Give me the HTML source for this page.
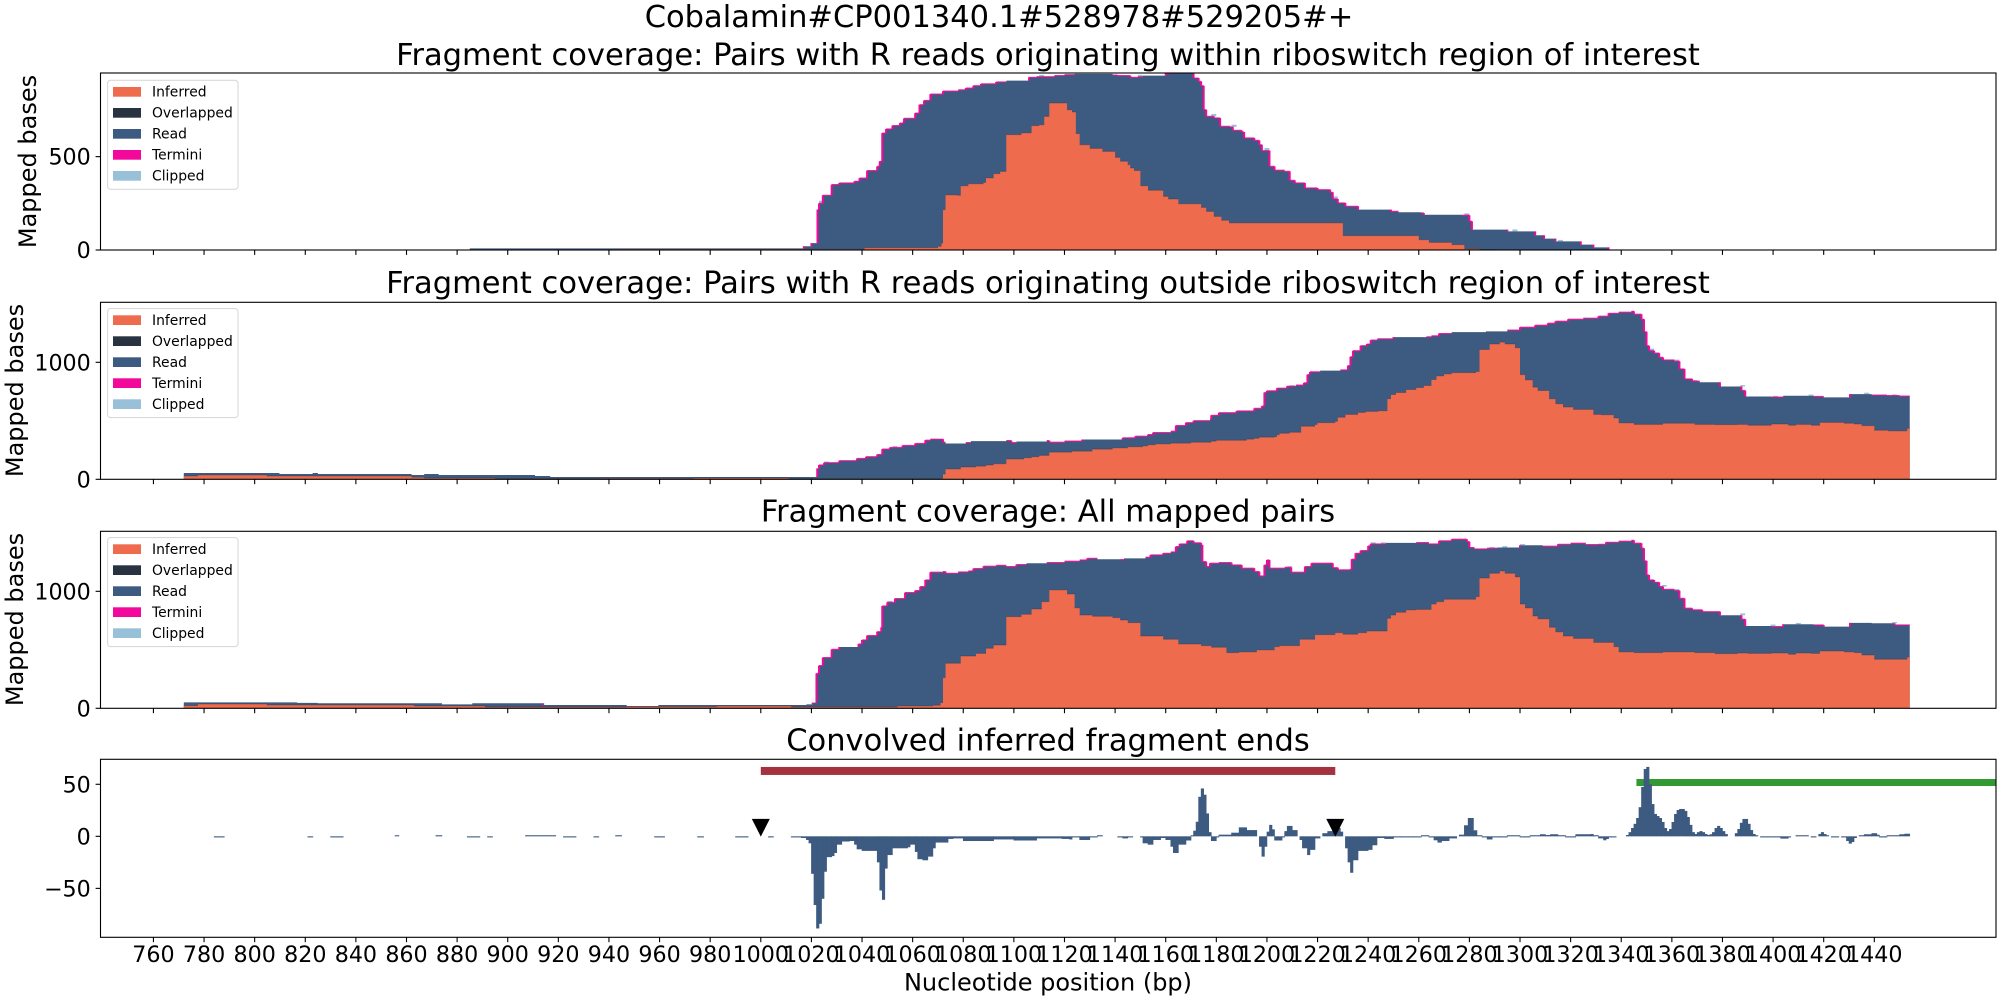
<!DOCTYPE html>
<html><head><meta charset="utf-8"><title>Cobalamin fragment coverage</title>
<style>
html,body{margin:0;padding:0;background:#fff}
svg{display:block}
text{font-family:"DejaVu Sans","Liberation Sans",sans-serif;fill:#000}
.tl{font-size:30.5px;text-anchor:middle}
.tk{font-size:22.2px}
.yl{font-size:24px;text-anchor:middle}
</style></head>
<body>
<svg id="fig" xmlns="http://www.w3.org/2000/svg" width="2000" height="1000" viewBox="0 0 2000 1000">
<rect width="2000" height="1000" fill="#fff"/>
<text class="tl" x="999" y="27">Cobalamin#CP001340.1#528978#529205#+</text>
<text class="tl" x="1048" y="65">Fragment coverage: Pairs with R reads originating within riboswitch region of interest</text>
<text class="tl" x="1048" y="293">Fragment coverage: Pairs with R reads originating outside riboswitch region of interest</text>
<text class="tl" x="1048" y="521.5">Fragment coverage: All mapped pairs</text>
<text class="tl" x="1048" y="750.5">Convolved inferred fragment ends</text>
<text class="yl" transform="translate(36,161.5) rotate(-90)">Mapped bases</text>
<text class="yl" transform="translate(23,390.5) rotate(-90)">Mapped bases</text>
<text class="yl" transform="translate(23,619.5) rotate(-90)">Mapped bases</text>
<text class="yl" x="1048" y="990.5">Nucleotide position (bp)</text>
<g id="plots"></g>
</svg>
<script>
var xTickLabels=[760,780,800,820,840,860,880,900,920,940,960,980,1000,1020,1040,1060,1080,1100,1120,1140,1160,1180,1200,1220,1240,1260,1280,1300,1320,1340,1360,1380,1400,1420,1440];
var p1YTicks=[0,500];
var p2YTicks=[0,1000];
var p3YTicks=[0,1000];
var p4YTicks=[-50,0,50];
var legendLabels=["Inferred","Overlapped","Read","Termini","Clipped"];
var legendColors=["#ee6c4d","#293241","#3d5a80","#f2089a","#98c1d9"];
var dataEnd=1454;

var p1TotalPos=[885,1017,1020,1022.4,1023,1024.5,1028,1031,1037,1039,1042,1046,1047,1048,1049.5,1052,1055,1056.6,1061,1062.7,1064.5,1067,1072,1078,1081,1084,1087,1093,1097,1106,1109,1116,1120,1124,1139,1141,1146,1149,1151,1160,1163,1171,1173,1174,1175,1176,1179,1181.5,1185.5,1186.5,1190,1191,1195,1197,1198,1201,1203,1207,1209,1211,1215,1220,1225,1226,1228,1231,1236,1249,1252,1261,1262,1277,1280,1281,1295,1306,1309.5,1314,1324,1329,1335,1337];
var p1TotalVal=[9,20,37,216,250,293,350,359,368,385,425,448,475,626,648,666,680,705,733,778,801,835,851,858,867,880,890,900,907,925,928,934,939,943,937,934,925,928,934,945,945,921,903,880,751,716,707,662,659,641,632,600,587,564,532,448,427,421,373,359,332,323,309,273,252,234,216,207,202,198,189,186,154,109,100,79,61,46,29,14,2,0];
var p1InferredPos=[942,1041,1070,1071.4,1072,1073,1077.4,1079,1082,1088,1089,1092,1094.6,1097,1103,1107,1110,1112,1114,1121,1123,1124.5,1126,1130,1135,1140,1142,1145,1146,1147.5,1150,1153,1159,1161,1165,1174,1176,1179,1182,1185,1230,1260,1264,1273,1278,1284,1290];
var p1InferredVal=[4,12,20,37,216,295,293,344,355,362,386,409,421,618,627,666,671,716,787,751,739,623,564,544,528,496,475,457,439,426,344,320,287,273,248,228,207,180,159,145,77,55,41,29,7,2,0];
var p1ClippedPos=[1023,1056,1110,1149,1178,1186,1199,1226,1278,1297,1315];
var p1ClippedVal=[14,12,10,10,12,12,14,14,10,10,8];

var p2TotalPos=[772,777.6,809.8,822.9,825,862,867,872.7,910.8,916.8,1012,1022.3,1023,1025,1031,1038,1041.6,1046,1048,1051,1056,1061,1065,1067,1072,1073,1081,1083,1097,1099,1101,1113,1114,1120,1127,1143,1148,1153,1155,1162,1164,1168,1171,1177.5,1178,1181,1188,1195,1198,1199,1200,1204,1208,1211.5,1214.6,1216,1217,1221,1229,1232,1233,1234,1237,1239.5,1241,1243.6,1250,1263,1265,1268,1273,1286.5,1295,1300,1306,1311,1314,1319,1325,1331,1335,1339,1344,1345,1348,1349,1350,1351,1353,1355,1356.5,1361,1363,1365,1368,1371,1379,1387.5,1389,1399.4,1404,1416,1420,1430.4,1439,1445,1450];
var p2TotalVal=[54,54,45,54,45,37,45,37,28,20,20,93,122,142,159,178,193,212,258,272,289,306,334,343,317,306,314,326,331,314,323,331,317,326,340,354,368,382,399,411,459,484,501,513,547,569,584,606,626,742,756,779,796,805,824,895,918,929,935,972,1048,1099,1142,1156,1190,1201,1215,1218,1226,1246,1258,1264,1275,1300,1317,1334,1351,1368,1377,1394,1419,1428,1436,1411,1368,1261,1142,1099,1079,1042,1020,1009,943,858,839,830,793,759,708,703,714,708,700,728,720,716,711];
var p2InferredPos=[772,777.6,804.8,862,867,895,937,973.5,1011,1071,1072,1073,1079,1085,1089,1092,1097,1104,1107,1110,1114,1123,1131,1139,1145,1151,1153,1156,1162,1170,1178,1180,1192,1195,1197,1203,1204,1205,1209,1213.5,1219,1220,1227,1228,1231,1236,1239,1244,1247.6,1249,1251,1255,1259,1262,1265,1267,1270,1273,1282.6,1284,1288,1292,1294,1298,1300,1302,1305,1307,1311.5,1314,1317,1321,1329,1332,1337,1339,1345,1356.5,1369,1377,1386,1390,1399.4,1406,1409,1415,1418.5,1428,1432,1435,1440,1445.5,1453];
var p2InferredVal=[28,37,28,17,11,6,8,11,3,8,45,88,105,113,122,133,173,184,193,204,232,241,258,269,278,286,295,303,309,317,326,334,343,351,360,365,382,394,402,453,470,484,496,530,555,572,581,586,688,725,742,768,785,802,853,884,901,912,921,1110,1156,1173,1156,1125,895,850,788,759,688,646,618,598,555,552,524,482,470,479,470,467,470,462,473,462,470,462,487,479,473,459,419,414,436];
var p2ClippedPos=[1025,1052,1209,1351,1361,1368,1387,1400,1414,1436,1447];
var p2ClippedVal=[10,12,8,18,14,10,12,10,10,12,10];

var p3TotalPos=[772,816.8,824.9,862,874,886,907,914,947,959.5,1018,1020.5,1022,1023,1024.5,1028,1031,1038.6,1040,1042,1046,1047.6,1048,1050,1053,1057,1061,1063,1065,1067,1072,1073,1078,1082,1084,1088,1093,1097,1101,1105,1113,1120,1126,1129,1133,1142,1143.5,1152,1154,1159,1162,1164,1165.5,1168.5,1171,1174,1174.5,1176,1177.5,1181,1186,1190,1195,1197,1199,1200,1201,1207,1209.6,1214,1215,1217.6,1223.6,1226,1228,1232.7,1233.5,1235,1237,1240,1241,1247,1259,1264,1268,1273,1279,1280,1282,1287,1291,1300,1309,1315,1320,1326,1331,1334,1339,1344,1345,1348,1349,1350,1351,1353,1355,1356.5,1361,1363,1365,1368,1372,1379,1387.5,1389,1399.4,1404,1416,1420,1430.4,1439,1448];
var p3TotalVal=[51,46,43,43,34,43,43,28,20,28,34,48,299,365,433,504,524,550,584,621,655,692,875,906,938,989,1006,1040,1097,1163,1168,1154,1165,1174,1194,1214,1222,1211,1228,1240,1245,1257,1268,1282,1274,1271,1282,1291,1311,1325,1336,1382,1405,1431,1414,1396,1254,1211,1240,1245,1225,1197,1168,1131,1225,1268,1197,1205,1163,1163,1211,1240,1240,1202,1183,1188,1274,1325,1348,1388,1405,1414,1416,1405,1431,1445,1425,1374,1362,1368,1374,1394,1385,1402,1411,1399,1402,1419,1428,1436,1411,1368,1260,1140,1097,1077,1040,1017,1006,940,855,841,826,795,761,704,698,718,712,698,730,727,712];
var p3InferredPos=[772,777.6,804.8,847,863,891,947,982.6,1012,1054,1068,1071,1072,1073,1079,1085,1089,1092,1097,1103,1107,1111,1114,1121,1124,1126,1131,1139,1142,1145,1150,1159,1165,1174,1178,1184,1189,1196,1203,1205,1213,1219,1227,1230,1236,1239.5,1247.6,1249,1251,1255,1259,1265,1267,1270,1282.6,1284,1288,1292,1294,1298,1300,1302,1305,1307,1311.5,1314,1317,1321,1329,1337,1339,1345,1356.5,1369,1377,1386,1390,1399.4,1406,1409,1415,1418.5,1428,1432,1435,1440,1453];
var p3InferredVal=[23,37,28,28,20,11,14,20,11,20,26,48,262,385,447,470,513,541,784,804,849,912,1012,977,858,798,787,775,755,732,618,590,550,536,522,476,482,499,527,536,590,630,647,633,647,661,770,798,821,841,846,892,912,932,955,1114,1154,1174,1154,1123,892,858,789,764,693,653,618,598,564,527,482,476,482,476,467,473,470,473,462,473,470,490,482,476,456,419,439];
var p3ClippedPos=[1050,1208,1241,1245,1288,1293,1300,1356,1361,1387,1399,1409,1430,1447];
var p3ClippedVal=[12,10,14,14,10,12,10,14,14,16,12,12,14,10];

var p4BarPos=[
784,788,821,823,830,835,855.5,857,871.6,874,
884,889,892,894,907,919,922,927,934,936,
942.6,945,958,962,975,977.4,990,995,1003,1005,
1012,1016,1018,1019,1020,1021,1022,1023,1024,1025,
1026,1028,1029,1030,1032,1035,1037,1038,1040,1046,
1047,1048,1049,1050,1052,1058,1059,1061,1062,1064,
1066,1068,1069,1074,1076,1080,1092,1100,1109,1119,
1122,1123,1126,1130,1133,1135,1141,1143,1145,1147,
1150,1151,1153,1155,1158,1160,1162,1163,1165,1168,
1170,1171,1172,1173,1174,1175,1176,1177,1178,1180,
1181,1186,1189,1192,1196,1197,1198,1199,1200,1201,
1202,1203,1206,1207,1208,1210,1212,1213,1214,1216,
1217,1219,1221,1222,1224,1226,1229,1230,1231,1232,
1233,1234,1236,1240,1241.6,1243.5,1246.5,1250,1253,1258,
1261,1264,1266,1267.5,1269,1272,1275,1276,1278,1279.5,
1281.6,1283,1285,1287,1289,1292,1295,1300,1304,1308,
1310,1312,1315,1318,1322,1328,1329,1331,1333,1334,
1335,1336,1338,1342,1343,1344,1345,1346,1347,1348,
1349,1350,1351,1352,1353,1354,1355,1356,1357,1358,
1359,1360,1361,1362,1363,1365,1366,1367,1368,1369,
1370,1371,1372,1373,1374,1375,1376,1377,1378,1379,
1380,1381,1382,1385,1386,1387,1388,1390,1391,1392,
1393,1394,1395,1398,1403,1406,1407,1409,1414,1415,
1417,1418,1419,1420,1421,1422,1423,1426,1427,1429,
1430,1431,1432,1433,1434,1436,1439,1441,1442,1443,
1444,1445,1450,1452];
var p4BarVal=[
-.8,0,-.8,0,-.8,0,.8,0,.8,0,
-.8,0,-.8,0,.8,0,-.8,0,-.8,0,
.8,0,-.8,0,-.8,0,-.8,0,-.8,0,
-.7,-1.6,-3.5,-6.7,-36,-66,-88.5,-84,-60,-34,
-20,-19,-16,-8,-5,-4.5,-8,-12.5,-14,-25,
-52,-61,-31,-18,-11.5,-10.5,-8,-15,-22,-23,
-19.5,-11.5,-6,-2.5,-2,-4.5,-3,-4,-2,-2.5,
-3,-1,-3.5,-1,.5,0,-1,-2,-1,0,
-.6,-6.7,-8,-3.5,-1.6,-3.5,-10,-16,-8,-4,
.5,5.4,14,38,46,40,22,4,-4.5,-1,
1.6,3.5,8.6,6,0,-10,-19.5,-10,4.5,11,
6.7,-4,-1,5,10,6,0,-3.5,-11.5,-18,
-13,-2,0,3,5,8,4.5,0,-11.5,-25,
-35,-23,-14,-13,-8.6,-1.6,-2.5,-1,-.6,-.4,
.6,-1,-3.8,-6,-4.5,-2,0,1.6,10.6,17.6,
5.8,.6,-.6,-3,-1,-.4,.6,-.4,.6,2,
1.3,2,.6,-1,2,2.2,1,-2,-3.8,-2.6,
-1,-.5,0,1.3,4,8,12,17.6,28,47.4,
64.7,66.7,50,31,21.5,19.5,17.6,13.8,8,5,
7,13.8,21.5,25.3,26.3,24.4,18.6,11,4,2.2,
4,5,4,2.2,1.3,2,4,8,10,8,
5,2.2,0,3,7,13,16.7,12,6,2.2,
1,0,-.5,-1,-2.2,-.6,0,.6,0,-.5,
0,2.2,4,2.2,.8,0,-.5,0,-.7,-4.5,
-7,-5.5,-1.6,0,.8,2,3,1.5,-.5,-1,
-.5,.8,2,2.5];
var regionStarts=[1000,1346];
var regionEnds=[1227,1495];
var regionValues=[62.8,51.7];
var regionColors=["#a5333f","#339933"];
var regionHeights=[8,7];
var boundaryMarkers=[1000,1227];

var svg=document.getElementById('plots');
var NS='http://www.w3.org/2000/svg';
var LEFT=100.5,RIGHT=1996;
function x(v){return 760.8+(v-1000)*2.5307;}
function axisY(p,v){return p.bottom-(v-p.yMin)/(p.yMax-p.yMin)*(p.bottom-p.top);}
function mk(tag,attrs,parent){var e=document.createElementNS(NS,tag);for(var k in attrs)e.setAttribute(k,attrs[k]);parent.appendChild(e);return e;}
function areaPath(pos,val,p){
  var base=axisY(p,0),d='M'+x(pos[0]).toFixed(2)+' '+base.toFixed(2);
  for(var i=0;i<pos.length;i++){d+='H'+x(pos[i]).toFixed(2)+'V'+axisY(p,val[i]).toFixed(2);}
  return d+'H'+x(dataEnd).toFixed(2)+'V'+base.toFixed(2)+'Z';
}
function horizontals(pos,val,p,maxLen,minVal){
  var d='';
  for(var i=0;i<pos.length;i++){
    var a=x(pos[i]),b=x(i+1<pos.length?pos[i+1]:dataEnd);
    if(maxLen&&b-a>maxLen)continue;
    if(minVal&&val[i]<minVal)continue;
    var y=axisY(p,val[i]);
    d+='M'+a.toFixed(2)+' '+y.toFixed(2)+'H'+b.toFixed(2);
  }
  return d;
}
function verticals(pos,val,p){
  var d='';
  for(var i=1;i<pos.length;i++){
    if(Math.abs(axisY(p,val[i])-axisY(p,val[i-1]))<1.5)continue;
    d+='M'+x(pos[i]).toFixed(2)+' '+axisY(p,val[i-1]).toFixed(2)+'V'+axisY(p,val[i]).toFixed(2);
  }
  return d;
}
function drawAxes(g,p,ticks,labels,idx){
  var ticksG=mk('g',{},g);
  
  
  xTickLabels.forEach(function(t){
    mk('line',{x1:x(t),x2:x(t),y1:p.bottom,y2:p.bottom+4.9,stroke:'#000','stroke-width':1.1},ticksG);
    if(labels){
      var tx=mk('text',{x:x(t),y:962,'class':'tk','text-anchor':'middle'},ticksG);
      tx.textContent=t;
      
      
    }
  });
  ticks.forEach(function(t){
    var y=axisY(p,t);
    mk('line',{x1:LEFT-4.9,x2:LEFT,y1:y,y2:y,stroke:'#000','stroke-width':1.1},ticksG);
    var tx=mk('text',{x:LEFT-9.7,y:y+8,'class':'tk','text-anchor':'end'},ticksG);
    tx.textContent=String(t).replace('-','\u2212');
    
    
  });
  var frame=mk('rect',{x:LEFT,y:p.top,width:RIGHT-LEFT,height:p.bottom-p.top,fill:'none',stroke:'#000','stroke-width':1.1},g);
  
  
}
function clip(id,p){
  var c=mk('clipPath',{id:id},svg);
  mk('rect',{x:LEFT,y:p.top,width:RIGHT-LEFT,height:p.bottom-p.top},c);
}
function drawCoverage(idx,p,tp,tv,ip,iv,cp,cv,ticks,legendShift){
  var g=mk('g',{},svg);
  
  
  clip('c'+idx,p);
  var data=mk('g',{'clip-path':'url(#c'+idx+')'},g);
  var clipped=mk('g',{},data);
  
  
  cp.forEach(function(b,i){
    var k=0;while(k+1<tp.length&&tp[k+1]<=b)k++;
    var y0=axisY(p,tv[k]),y1=axisY(p,tv[k]+cv[i]);
    mk('rect',{x:x(b),y:y1,width:5,height:y0-y1,fill:'#98c1d9'},clipped);
  });
  var read=mk('path',{d:areaPath(tp,tv,p),fill:'#3d5a80'},data);
  
  
  var inf=mk('path',{d:areaPath(ip,iv,p),fill:'#ee6c4d'},data);
  
  
  var ov=mk('path',{d:horizontals(ip,iv,p,0,0),fill:'none',stroke:'#293241','stroke-width':1,opacity:.35},data);
  
  
  var tv1=mk('path',{d:verticals(tp,tv,p),fill:'none',stroke:'#f2089a','stroke-width':2},data);
  
  
  var th=mk('path',{d:horizontals(tp,tv,p,18,100),fill:'none',stroke:'#f2089a','stroke-width':1.2,opacity:.85},data);
  
  
  drawAxes(g,p,ticks,false,idx);
  var lg=mk('g',{transform:'translate(0,'+(p.top+legendShift)+')'},g);
  
  
  mk('rect',{x:107.6,y:7.3,width:130.4,height:109,rx:3,fill:'#fff','fill-opacity':.8,stroke:'#d9d9d9','stroke-width':1.1},lg);
  legendLabels.forEach(function(name,i){
    mk('rect',{x:113,y:14+i*21,width:28,height:9.7,fill:legendColors[i]},lg);
    var t=mk('text',{x:152,y:23.6+i*21,'font-size':13.9},lg);
    t.textContent=name;
    
    
  });
}
var panel1={top:73,bottom:250,yMin:0,yMax:948};
var panel2={top:302.3,bottom:479.3,yMin:0,yMax:1513};
var panel3={top:531.3,bottom:708.3,yMin:0,yMax:1513};
var panel4={top:759.3,bottom:937.3,yMin:-97,yMax:74};
drawCoverage(1,panel1,p1TotalPos,p1TotalVal,p1InferredPos,p1InferredVal,p1ClippedPos,p1ClippedVal,p1YTicks,0);
drawCoverage(2,panel2,p2TotalPos,p2TotalVal,p2InferredPos,p2InferredVal,p2ClippedPos,p2ClippedVal,p2YTicks,-1);
drawCoverage(3,panel3,p3TotalPos,p3TotalVal,p3InferredPos,p3InferredVal,p3ClippedPos,p3ClippedVal,p3YTicks,-1);

var g4=mk('g',{},svg);


clip('c4',panel4);
var d4=mk('g',{'clip-path':'url(#c4)'},g4);
regionStarts.forEach(function(s,i){
  var r=mk('rect',{x:x(s),y:axisY(panel4,regionValues[i])-regionHeights[i]/2,width:x(regionEnds[i])-x(s),height:regionHeights[i],fill:regionColors[i]},d4);
  
  
});
p4BarPos.forEach(function(b,i){
  if(!p4BarVal[i])return;
  var end=i+1<p4BarPos.length?p4BarPos[i+1]:dataEnd;
  var y0=axisY(panel4,0),y1=axisY(panel4,p4BarVal[i]);
  var h=Math.max(Math.abs(y1-y0),1.1);
  var bar=mk('rect',{x:x(b)-0.3,y:p4BarVal[i]>0?y0-h:y0,width:x(end)-x(b)+0.6,height:h,fill:'#3d5a80'},d4);
  
  
});
boundaryMarkers.forEach(function(b){
  var cx=x(b),ty=axisY(panel4,0);
  var m=mk('polygon',{points:(cx-9)+','+(ty-17.5)+' '+(cx+9)+','+(ty-17.5)+' '+cx+','+(ty+0.3),fill:'#000'},d4);
  
  
});
drawAxes(g4,panel4,p4YTicks,true,4);
</script>
</body></html>
